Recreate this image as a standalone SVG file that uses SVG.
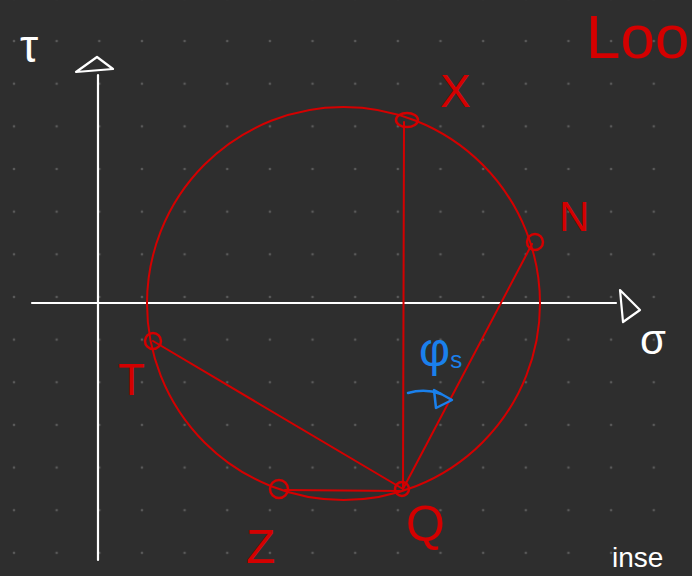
<svg xmlns="http://www.w3.org/2000/svg" width="692" height="576" viewBox="0 0 692 576">
<defs>
<pattern id="dots" x="14" y="-1.6" width="42.65" height="42.65" patternUnits="userSpaceOnUse">
<circle cx="0" cy="0" r="1.3" fill="#5a5a5a"/>
<circle cx="42.65" cy="0" r="1.3" fill="#5a5a5a"/>
<circle cx="0" cy="42.65" r="1.3" fill="#5a5a5a"/>
<circle cx="42.65" cy="42.65" r="1.3" fill="#5a5a5a"/>
</pattern>
<style>
.ax{stroke:#ffffff;stroke-width:2.2;fill:none;stroke-linecap:round;stroke-linejoin:round}
.rd{stroke:#d40000;stroke-width:2;fill:none;stroke-linecap:round;stroke-linejoin:round}
.pt{stroke:#d40000;stroke-width:2.5;fill:none}
.lbl{font-family:"Liberation Sans","DejaVu Sans",sans-serif;fill:#d40000}
.wt{font-family:"Liberation Sans","DejaVu Sans",sans-serif;fill:#ffffff}
.bl{font-family:"Liberation Sans","DejaVu Sans",sans-serif;fill:#1a80ec}
</style>
</defs>
<rect width="692" height="576" fill="#2e2e2e"/>
<rect width="692" height="576" fill="url(#dots)"/>

<g id="axes">
<line class="ax" x1="98" y1="75" x2="98" y2="560"/>
<polygon class="ax" points="76,72 97,57 113,69"/>
<line class="ax" x1="32" y1="303" x2="616" y2="303"/>
<polygon class="ax" points="620,290 640,310 623,322"/>
<text class="wt" x="20" y="62" font-size="46">τ</text>
<text class="wt" x="640" y="354" font-size="42">σ</text>
</g>

<g id="circle">
<circle class="rd" cx="343.5" cy="303.5" r="196.5"/>
</g>

<g id="connectors">
<line class="rd" x1="404" y1="122" x2="403" y2="489"/>
<line class="rd" x1="403" y1="489" x2="532" y2="244"/>
<line class="rd" x1="403" y1="489" x2="153" y2="341"/>
<line class="rd" x1="285" y1="490" x2="400" y2="491" stroke-width="4"/>
</g>

<g id="X">
<ellipse class="pt" cx="407" cy="120" rx="11" ry="7"/>
<text class="lbl" x="440" y="107" font-size="46">X</text>
</g>
<g id="N">
<circle class="pt" cx="535" cy="242" r="8"/>
<text class="lbl" x="559" y="231" font-size="42">N</text>
</g>
<g id="T">
<circle class="pt" cx="153" cy="341" r="8"/>
<text class="lbl" x="118" y="395" font-size="44">T</text>
</g>
<g id="Z">
<circle class="pt" cx="279" cy="489" r="9"/>
<text class="lbl" x="246" y="563" font-size="48">Z</text>
</g>
<g id="Q">
<circle class="pt" cx="402" cy="489" r="7"/>
<text class="lbl" x="406" y="541" font-size="50">Q</text>
</g>

<g id="angle">
<text class="bl" x="419" y="366" font-size="48">φ<tspan font-size="24" dy="2">s</tspan></text>
<path d="M408,393 Q425,388 441,394" stroke="#1a80ec" stroke-width="2.5" fill="none" stroke-linecap="round"/>
<polygon points="434,390 452,400 436,408" stroke="#1a80ec" stroke-width="2.5" fill="none" stroke-linejoin="round"/>
</g>

<g id="title">
<text class="lbl" x="586" y="58" font-size="62">Loo</text>
</g>
<g id="note">
<text class="wt" x="612" y="567" font-size="28">inse</text>
</g>
</svg>
